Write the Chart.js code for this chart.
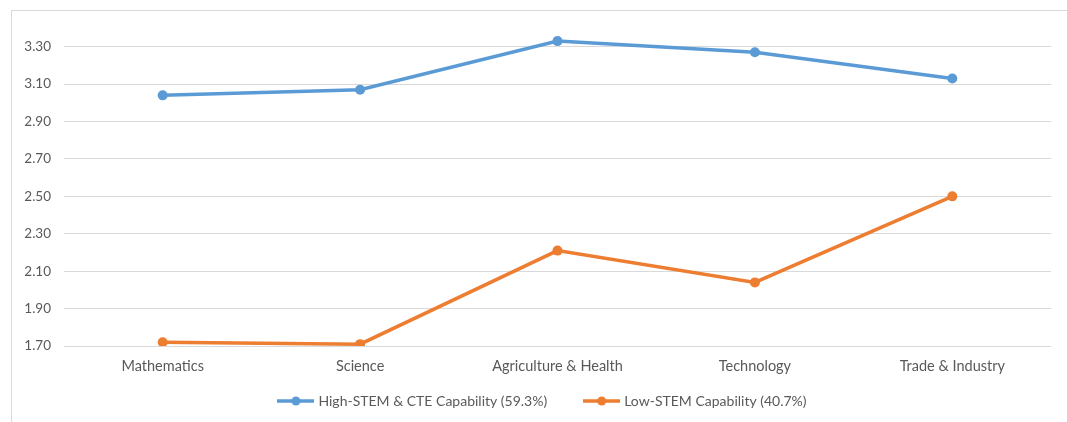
<!DOCTYPE html>
<html>
<head>
<meta charset="utf-8">
<script src="https://cdn.jsdelivr.net/npm/chart.js@4"></script>
<style>
  html, body { margin: 0; padding: 0; background: #fff; }
  #frame { position: absolute; left: 11px; top: 10px; width: 1056px; height: 412px;
           border-left: 1px solid #d9d9d9; border-top: 1px solid #d9d9d9; }
  #wrap { position: absolute; left: 0; top: 0; width: 1067px; height: 422px; }
</style>
</head>
<body>
<div id="frame"></div>
<div id="wrap"><canvas id="lineChart"></canvas></div>
<script>
// Data
const categories = ['Mathematics', 'Science', 'Agriculture & Health', 'Technology', 'Trade & Industry'];
const highStem = [3.04, 3.07, 3.33, 3.27, 3.13];
const lowStem = [1.72, 1.71, 2.21, 2.04, 2.50];
const yTicks = [1.7, 1.9, 2.1, 2.3, 2.5, 2.7, 2.9, 3.1, 3.3];

const FONT = 'Lato, "Open Sans", sans-serif';
const TEXT = '#595959';

// legend marker: short line with a dot
function marker(color) {
  const c = document.createElement('canvas');
  c.width = 37; c.height = 12;
  const g = c.getContext('2d');
  g.strokeStyle = color; g.lineWidth = 3.5;
  g.beginPath(); g.moveTo(0, 6); g.lineTo(37, 6); g.stroke();
  g.fillStyle = color;
  g.beginPath(); g.arc(18.5, 6, 4.5, 0, Math.PI * 2); g.fill();
  return c;
}

// wide gap between legend items, but keep the legend low and compact
const legendPlace = {
  id: 'legendPlace',
  afterInit(chart) {
    const fit = chart.legend.fit;
    chart.legend.fit = function () {
      fit.call(this);
      this.height = 38;
    };
  },
  afterLayout(chart) {
    const lg = chart.legend;
    lg.top = 355;
    lg.bottom = 422;
    lg.height = lg.bottom - lg.top;
    lg.left += 18;
    lg.right += 18;
    lg.width = lg.right - lg.left;
  }
};

const ctx = document.getElementById('lineChart').getContext('2d');
new Chart(ctx, {
  type: 'line',
  data: {
    labels: categories,
    datasets: [{
      label: 'High-STEM & CTE Capability (59.3%)',
      data: highStem,
      borderColor: '#5b9bd5',
      backgroundColor: '#5b9bd5',
      borderWidth: 3.5,
      pointRadius: 5,
      pointBorderWidth: 0,
      pointHoverRadius: 5,
      tension: 0
    }, {
      label: 'Low-STEM Capability (40.7%)',
      data: lowStem,
      borderColor: '#ed7d31',
      backgroundColor: '#ed7d31',
      borderWidth: 3.5,
      pointRadius: 5,
      pointBorderWidth: 0,
      pointHoverRadius: 5,
      tension: 0
    }]
  },
  options: {
    responsive: true,
    maintainAspectRatio: false,
    animation: false,
    layout: { padding: { top: 28, right: 16, bottom: 0, left: 0 } },
    plugins: {
      tooltip: { enabled: false },
      legend: {
        position: 'bottom',
        labels: {
          color: TEXT,
          font: { family: FONT, size: 14 },
          usePointStyle: true,
          pointStyleWidth: 31,
          boxHeight: 12,
          padding: 39,
          generateLabels(chart) {
            const items = Chart.defaults.plugins.legend.labels.generateLabels(chart);
            items.forEach((it, i) => {
              it.pointStyle = marker(chart.data.datasets[i].borderColor);
            });
            return items;
          }
        }
      }
    },
    scales: {
      x: {
        offset: true,
        grid: { display: false, drawTicks: false },
        border: { display: false },
        ticks: { color: TEXT, font: { family: FONT, size: 14.5 }, padding: 12, maxRotation: 0 },
        afterFit(axis) { axis.height = 38; }
      },
      y: {
        min: 1.7,
        max: 3.4,
        grid: { color: '#d9d9d9', lineWidth: 1, drawTicks: false },
        border: { display: false },
        afterBuildTicks(axis) { axis.ticks = yTicks.map(v => ({ value: v })); },
        ticks: {
          color: TEXT,
          font: { family: FONT, size: 13.5 },
          padding: 13,
          callback: v => Number(v).toFixed(2)
        },
        afterFit(axis) { axis.width = 64; }
      }
    }
  },
  plugins: [legendPlace]
});
</script>
</body>
</html>
